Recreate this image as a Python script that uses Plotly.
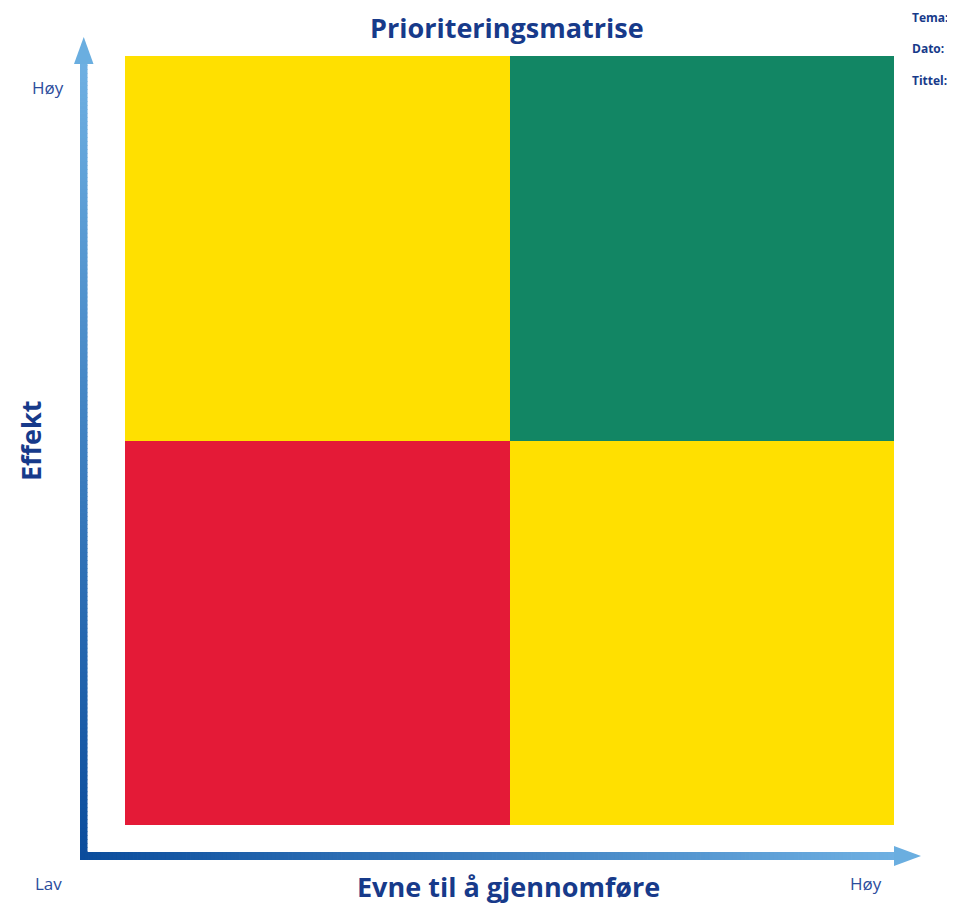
import plotly.graph_objects as go

# ---- data ----
x_levels = ["Lav", "Høy"]          # Evne til å gjennomføre
y_levels = ["Lav", "Høy"]          # Effekt
priority = [[0, 1],                # row Lav effekt: red, yellow
            [1, 2]]                # row Høy effekt: yellow, green
title_text = "Prioriteringsmatrise"
x_title = "Evne til å gjennomføre"
y_title = "Effekt"
side_labels = ["Tema:", "Dato:", "Tittel:"]

OFF = 8  # page body offset
W, H = 955 - OFF, 905 - OFF
L, R, T, B = 125 - OFF, 894 - OFF, 56 - OFF, 825 - OFF
PW, PH = R - L, B - T

def px(x):
    return (x - OFF - L) / PW

def py(y):
    return (B - (y - OFF)) / PH

RED, YELLOW, GREEN = "#E41A37", "#FFE000", "#128664"
NAVY = "#173A8A"

fig = go.Figure(go.Heatmap(
    x=[0, 1], y=[0, 1], z=priority,
    zmin=0, zmax=2,
    colorscale=[[0, RED], [0.5, YELLOW], [1, GREEN]],
    showscale=False, hoverinfo="skip", xgap=0, ygap=0,
))

shapes = []
dark = (11, 76, 156)
light = (110, 176, 226)

def mix(t):
    return "rgb(%d,%d,%d)" % tuple(round(dark[i] + (light[i] - dark[i]) * t) for i in range(3))

n = 200
y0, y1 = 860, 62
for i in range(n):
    a = y0 + (y1 - y0) * i / n
    b = y0 + (y1 - y0) * (i + 1) / n
    shapes.append(dict(type="rect", xref="paper", yref="paper",
                       x0=px(80), x1=px(87.5), y0=py(a), y1=py(b) + 0.001,
                       fillcolor=mix(i / (n - 1)), line=dict(width=0), layer="above"))
x0, x1 = 80, 896
for i in range(n):
    a = x0 + (x1 - x0) * i / n
    b = x0 + (x1 - x0) * (i + 1) / n
    shapes.append(dict(type="rect", xref="paper", yref="paper",
                       x0=px(a), x1=px(b) + 0.001, y0=py(852), y1=py(860),
                       fillcolor=mix(i / (n - 1)), line=dict(width=0), layer="above"))
head = "rgb(106,174,224)"
shapes.append(dict(type="path", xref="paper", yref="paper",
                   path="M %f %f L %f %f L %f %f Z" % (px(74), py(64), px(83.75), py(37), px(93.5), py(64)),
                   fillcolor=head, line=dict(width=0), layer="above"))
shapes.append(dict(type="path", xref="paper", yref="paper",
                   path="M %f %f L %f %f L %f %f Z" % (px(894), py(846), px(921), py(856), px(894), py(866)),
                   fillcolor=head, line=dict(width=0), layer="above"))

annotations = [
    dict(text="<b>%s</b>" % title_text, x=px(507), y=py(27), xref="paper", yref="paper",
         showarrow=False, font=dict(size=27, color=NAVY, family="Open Sans"), xanchor="center", yanchor="middle"),
    dict(text="<b>%s</b>" % x_title, x=px(508), y=py(886), xref="paper", yref="paper",
         showarrow=False, font=dict(size=27, color=NAVY, family="Open Sans"), xanchor="center", yanchor="middle"),
    dict(text="<b>%s</b>" % y_title, x=px(30), y=py(441), xref="paper", yref="paper", textangle=-90,
         showarrow=False, font=dict(size=27, color=NAVY, family="Open Sans"), xanchor="center", yanchor="middle"),
    dict(text=y_levels[1], x=px(48), y=py(88), xref="paper", yref="paper",
         showarrow=False, font=dict(size=17, color="#2B4C9C", family="Open Sans"), xanchor="center", yanchor="middle"),
    dict(text=x_levels[0], x=px(48), y=py(884), xref="paper", yref="paper",
         showarrow=False, font=dict(size=17, color="#2B4C9C", family="Open Sans"), xanchor="center", yanchor="middle"),
    dict(text=x_levels[1], x=px(866), y=py(884), xref="paper", yref="paper",
         showarrow=False, font=dict(size=17, color="#2B4C9C", family="Open Sans"), xanchor="center", yanchor="middle"),
]
for i, s in enumerate(side_labels):
    annotations.append(dict(text="<b>%s</b>" % s, x=px(910), y=py(17 + 31.5 * i), xref="paper", yref="paper",
                            showarrow=False, font=dict(size=12, color=NAVY, family="Open Sans"),
                            xanchor="left", yanchor="middle"))

fig.update_layout(
    width=W, height=H,
    margin=dict(l=L, r=W - R, t=T, b=H - B, pad=0),
    paper_bgcolor="white", plot_bgcolor="white",
    xaxis=dict(range=[-0.5, 1.5], visible=False, fixedrange=True),
    yaxis=dict(range=[-0.5, 1.5], visible=False, fixedrange=True),
    shapes=shapes, annotations=annotations, showlegend=False,
)

fig.write_html("out.html", config={"displayModeBar": False})
